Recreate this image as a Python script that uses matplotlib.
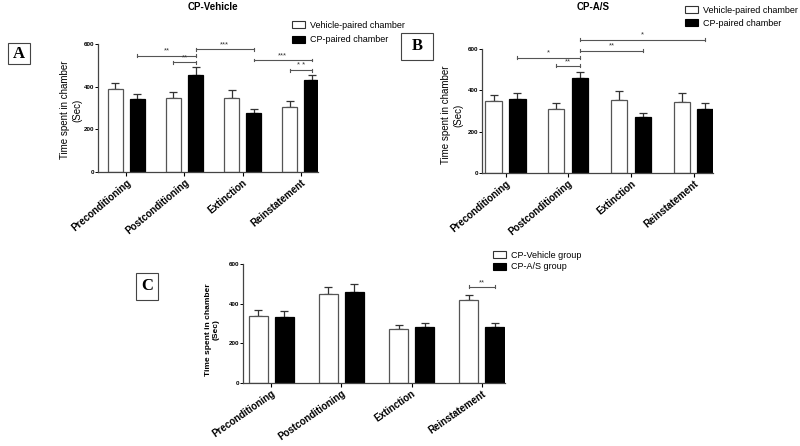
"""Time spent in chamber: CP-Vehicle, CP-A/S and group comparison."""

import matplotlib
matplotlib.use('Agg')
import matplotlib.pyplot as plt
from matplotlib.patches import Patch, Rectangle
import numpy as np

plt.rcParams['font.family'] = ['Liberation Sans', 'DejaVu Sans']

W, H = 800, 446

phases = ['Preconditioning', 'Postconditioning', 'Extinction', 'Reinstatement']

# Panel A: CP-Vehicle
a_vehicle = [390, 348, 345, 305]
a_vehicle_err = [25, 28, 38, 30]
a_cp = [340, 455, 277, 430]
a_cp_err = [25, 38, 18, 25]
# (group, bar, group, bar, height, label); bar 0 = white, 1 = black
a_sig = [(0, 1, 1, 1, 545, '**'), (1, 0, 1, 1, 514, '**'), (1, 1, 2, 1, 575, '***'),
         (2, 1, 3, 1, 525, '***'), (3, 0, 3, 1, 478, '* *')]

# Panel B: CP-A/S
b_vehicle = [348, 312, 355, 345]
b_vehicle_err = [30, 28, 42, 42]
b_cp = [360, 462, 272, 312]
b_cp_err = [28, 28, 18, 28]
b_sig = [(0, 1, 1, 1, 558, '*'), (1, 0, 1, 1, 518, '**'), (1, 1, 2, 1, 592, '**'),
         (1, 1, 3, 1, 645, '*')]

# Panel C: groups compared
c_vehicle = [340, 448, 270, 420]
c_vehicle_err = [28, 35, 20, 22]
c_as = [332, 460, 283, 280]
c_as_err = [30, 38, 20, 22]
c_sig = [(3, 0, 3, 1, 485, '**')]


fig = plt.figure(figsize=(W / 100, H / 100), dpi=100)


def px_axes(left, top, right, bottom):
    return fig.add_axes([left / W, 1 - bottom / H, (right - left) / W, (bottom - top) / H])


def draw_panel(ax, white, white_err, black, black_err, sig, xlim, width, off, rot):
    x = np.arange(len(phases))
    for xs, vals, errs, fc, ec in [(x - off, white, white_err, 'white', '#555555'),
                                   (x + off, black, black_err, 'black', 'black')]:
        ax.bar(xs, vals, width, color=fc, edgecolor=ec, linewidth=0.9, zorder=2)
        ax.errorbar(xs, vals, yerr=[np.zeros(len(vals)), errs], fmt='none',
                    ecolor='#333333', elinewidth=0.9, capsize=3, capthick=0.9, zorder=1)
    for g1, b1, g2, b2, yy, lab in sig:
        x1 = g1 + (off if b1 else -off)
        x2 = g2 + (off if b2 else -off)
        ax.plot([x1, x2], [yy, yy], color='#555555', lw=0.8, clip_on=False)
        for xe in (x1, x2):
            ax.plot([xe, xe], [yy - 7, yy + 7], color='#555555', lw=0.8, clip_on=False)
        ax.text((x1 + x2) / 2, yy + 4, lab, ha='center', va='bottom', fontsize=5.5,
                color='#333333')
    ax.set_xlim(*xlim)
    ax.set_ylim(0, 600)
    ax.set_yticks([0, 200, 400, 600])
    ax.set_xticks(x)
    ax.set_xticklabels(phases, rotation=rot, ha='right', rotation_mode='anchor',
                       fontsize=7, fontweight='bold')
    ax.tick_params(axis='y', labelsize=4.5, length=2, width=0.7, pad=1)
    ax.tick_params(axis='x', length=3, width=0.8, pad=1)
    for lab in ax.get_yticklabels():
        lab.set_fontweight('bold')
    for s in ('top', 'right'):
        ax.spines[s].set_visible(False)
    for s in ('left', 'bottom'):
        ax.spines[s].set_color('#444444')
        ax.spines[s].set_linewidth(0.9)
    ax.set_facecolor('none')


def panel_letter(x0, y0, x1, y1, letter):
    fig.patches.append(Rectangle((x0 / W, 1 - y1 / H), (x1 - x0) / W, (y1 - y0) / H,
                                 transform=fig.transFigure, fill=False,
                                 edgecolor='#444444', lw=0.8))
    fig.text((x0 + x1) / 2 / W, 1 - (y0 + y1) / 2 / H, letter, ha='center', va='center',
             fontsize=12, fontweight='bold', family='Liberation Serif')


def legend(x, y, labels, spacing):
    handles = [Patch(facecolor='white', edgecolor='#333333', lw=0.8),
               Patch(facecolor='black', edgecolor='black', lw=0.8)]
    fig.legend(handles, labels, loc='upper left', bbox_to_anchor=(x / W, 1 - y / H),
               frameon=False, fontsize=6.5, handlelength=1.4, handleheight=0.8,
               handletextpad=0.6, labelspacing=spacing, borderaxespad=0, borderpad=0)


# A ---------------------------------------------------------------------------
ax_a = px_axes(98, 44, 318, 172)
draw_panel(ax_a, a_vehicle, a_vehicle_err, a_cp, a_cp_err, a_sig, (-0.49, 3.30), 0.26, 0.19, 40)
fig.text(213 / W, 1 - 7 / H, 'CP-Vehicle', ha='center', va='center', fontsize=7,
         fontweight='bold')
fig.text(71 / W, 1 - 110 / H, 'Time spent in chamber\n(Sec)', ha='center', va='center',
         rotation=90, fontsize=7, linespacing=1.3)
panel_letter(8, 43, 30, 64, 'A')
legend(292, 21, ['Vehicle-paired chamber', 'CP-paired chamber'], 0.6)

# B ---------------------------------------------------------------------------
ax_b = px_axes(482, 49, 713, 173)
draw_panel(ax_b, b_vehicle, b_vehicle_err, b_cp, b_cp_err, b_sig, (-0.375, 3.31), 0.26, 0.19, 40)
fig.text(593 / W, 1 - 7 / H, 'CP-A/S', ha='center', va='center', fontsize=7,
         fontweight='bold')
fig.text(452 / W, 1 - 115 / H, 'Time spent in chamber\n(Sec)', ha='center', va='center',
         rotation=90, fontsize=7, linespacing=1.3)
panel_letter(401, 33, 433, 60, 'B')
legend(685, 6, ['Vehicle-paired chamber', 'CP-paired chamber'], 0.45)

# C ---------------------------------------------------------------------------
ax_c = px_axes(243, 264, 505, 383)
draw_panel(ax_c, c_vehicle, c_vehicle_err, c_as, c_as_err, c_sig, (-0.40, 3.33), 0.27, 0.185, 35)
fig.text(212 / W, 1 - 330 / H, 'Time spent in chamber\n(Sec)', ha='center', va='center',
         rotation=90, fontsize=6, fontweight='bold', linespacing=1.2)
panel_letter(136, 273, 158, 300, 'C')
legend(493, 251, ['CP-Vehicle group', 'CP-A/S group'], 0.25)

fig.savefig('out.png', dpi=100)
